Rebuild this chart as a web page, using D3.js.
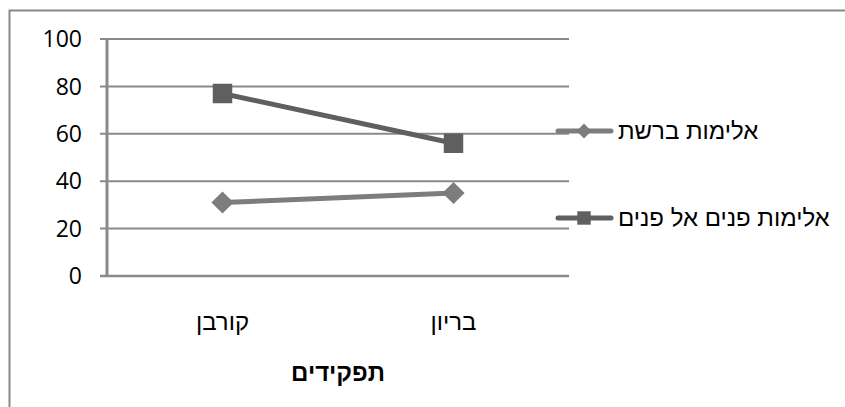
<!DOCTYPE html>
<html>
<head>
<meta charset="UTF-8">
<title>תפקידים</title>
<script src="https://cdn.jsdelivr.net/npm/d3@7"></script>
<style>
    body { margin: 0; background: #fff; }
    text { fill: #000; }
    .num { font-family: "Open Sans", sans-serif; font-size: 23px; }
    .heb { font-family: "Liberation Sans", "DejaVu Sans", sans-serif; font-size: 24px; }
</style>
</head>
<body>
<script>
    // data
    var categories = ["קורבן", "בריון"];
    var seriesNames = ["אלימות ברשת", "אלימות פנים אל פנים"];
    var cyberValues = [31, 35];
    var faceValues = [77, 56];
    var yTicks = [0, 20, 40, 60, 80, 100];
    var axisTitle = "תפקידים";

    var W = 845, H = 407;
    var plot = {left: 107, right: 569, top: 39, bottom: 276};

    var svg = d3.select("body").append("svg")
        .attr("width", W).attr("height", H);

    // outer chart frame
    svg.append("rect")
        .attr("x", 9.5).attr("y", 10.5)
        .attr("width", W + 20).attr("height", H + 20)
        .attr("fill", "none").attr("stroke", "#888").attr("stroke-width", 2);

    var x = d3.scaleBand().domain(categories).range([plot.left, plot.right]);
    var y = d3.scaleLinear().domain([0, 100]).range([plot.bottom, plot.top]);

    // gridlines + ticks
    svg.append("g").selectAll("line")
        .data(yTicks.filter(function(d) { return d > 0; }))
        .enter().append("line")
        .attr("x1", plot.left - 7).attr("x2", plot.right)
        .attr("y1", function(d) { return y(d); }).attr("y2", function(d) { return y(d); })
        .attr("stroke", "#8a8a8a").attr("stroke-width", 2);

    // x axis line
    svg.append("line")
        .attr("x1", plot.left - 7).attr("x2", plot.right)
        .attr("y1", y(0)).attr("y2", y(0))
        .attr("stroke", "#8a8a8a").attr("stroke-width", 2.5);

    // y axis line
    svg.append("line")
        .attr("x1", plot.left).attr("x2", plot.left)
        .attr("y1", plot.top).attr("y2", plot.bottom)
        .attr("stroke", "#8a8a8a").attr("stroke-width", 3);

    svg.selectAll("text.ytick")
        .data(yTicks)
        .enter().append("text")
        .attr("class", "ytick num")
        .attr("x", 82)
        .attr("y", function(d) { return y(d); })
        .attr("dy", "0.36em")
        .attr("text-anchor", "end")
        .text(function(d) { return d; });

    svg.selectAll("text.xtick")
        .data(categories)
        .enter().append("text")
        .attr("class", "xtick heb")
        .attr("x", function(d) { return x(d) + x.bandwidth() / 2; })
        .attr("y", 322)
        .attr("dy", "0.35em")
        .attr("text-anchor", "middle")
        .text(function(d) { return d; });

    svg.append("text")
        .attr("class", "heb")
        .attr("x", (plot.left + plot.right) / 2)
        .attr("y", 373)
        .attr("dy", "0.35em")
        .attr("text-anchor", "middle")
        .style("font-weight", "bold")
        .text(axisTitle);

    var series = [
        {name: seriesNames[0], values: cyberValues, color: "#7d7d7d", diamond: true},
        {name: seriesNames[1], values: faceValues, color: "#5f5f5f", diamond: false}
    ];

    var line = d3.line()
        .x(function(d, i) { return x(categories[i]) + x.bandwidth() / 2; })
        .y(function(d) { return y(d); });

    series.forEach(function(s) {
        svg.append("path")
            .attr("d", line(s.values))
            .attr("fill", "none")
            .attr("stroke", s.color)
            .attr("stroke-width", 5);

        svg.selectAll(null)
            .data(s.values)
            .enter().append("path")
            .attr("transform", function(d, i) {
                return "translate(" + (x(categories[i]) + x.bandwidth() / 2) + "," + y(d) + ")" +
                    (s.diamond ? " rotate(45)" : "");
            })
            .attr("d", d3.symbol().type(d3.symbolSquare).size(s.diamond ? 245 : 380))
            .attr("fill", s.color);
    });

    // legend
    var legend = svg.selectAll("g.legend")
        .data(series)
        .enter().append("g")
        .attr("class", "legend")
        .attr("transform", function(d, i) { return "translate(0," + (131 + i * 87) + ")"; });

    legend.append("line")
        .attr("x1", 558).attr("x2", 611)
        .attr("y1", 0).attr("y2", 0)
        .attr("stroke", function(d) { return d.color; })
        .attr("stroke-width", 5)
        .attr("stroke-linecap", "round");

    legend.append("path")
        .attr("transform", function(d) { return "translate(584,0)" + (d.diamond ? " rotate(45)" : ""); })
        .attr("d", function(d) {
            return d3.symbol().type(d3.symbolSquare).size(d.diamond ? 110 : 180)();
        })
        .attr("fill", function(d) { return d.color; });

    legend.append("text")
        .attr("class", "heb")
        .attr("x", 618)
        .attr("dy", "0.35em")
        .attr("text-anchor", "start")
        .text(function(d) { return d.name; });
</script>
</body>
</html>
